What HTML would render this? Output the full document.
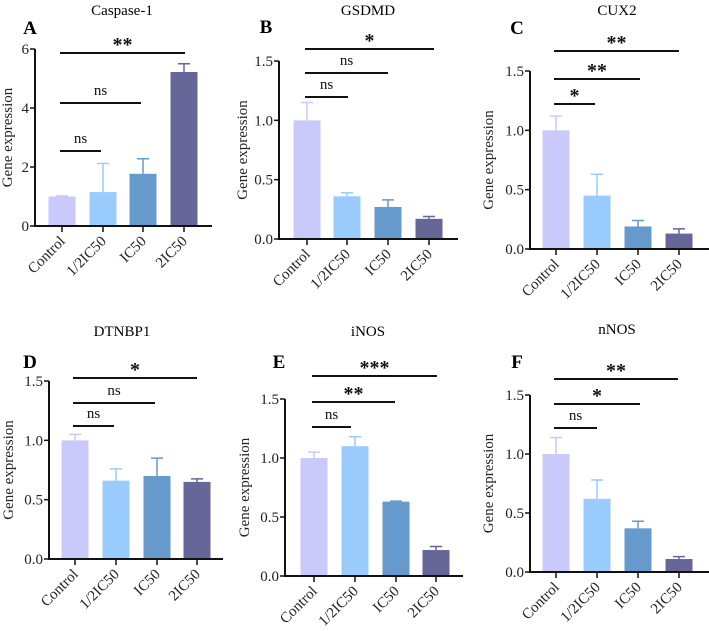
<!DOCTYPE html>
<html><head><meta charset="utf-8"><style>
html,body{margin:0;padding:0;background:#fff;}
svg{display:block;}
svg text{font-family:"Liberation Serif","DejaVu Serif",serif;}
</style></head><body>
<svg id="fig" width="709" height="631" viewBox="0 0 709 631" xmlns="http://www.w3.org/2000/svg"></svg>
<script>
const categories = ["Control","1/2IC50","IC50","2IC50"];
const colors = ["#c9c9fb","#99ccfd","#6699cc","#666699"];
const titles = ["Caspase-1","GSDMD","CUX2","DTNBP1","iNOS","nNOS"];
const letters = ["A","B","C","D","E","F"];
const meansA = [1.0,1.15,1.77,5.22];
const errsA  = [1.02,2.12,2.28,5.5];
const meansB = [1.0,0.36,0.27,0.17];
const errsB  = [1.15,0.39,0.33,0.19];
const meansC = [1.0,0.45,0.19,0.13];
const errsC  = [1.12,0.63,0.24,0.17];
const meansD = [1.0,0.66,0.70,0.65];
const errsD  = [1.05,0.76,0.85,0.675];
const meansE = [1.0,1.10,0.63,0.22];
const errsE  = [1.05,1.18,0.635,0.25];
const meansF = [1.0,0.62,0.37,0.11];
const errsF  = [1.14,0.78,0.43,0.13];
const ticksA = [0,2,4,6];
const ticksB = [0,0.5,1.0,1.5];
const sigLabels = [["ns","ns","**"],["ns","ns","*"],["*","**","**"],["ns","ns","*"],["ns","**","***"],["ns","*","**"]];

const panels = [
 {m:meansA,e:errsA,ticks:ticksA,max:6,dec:0,ax:35,y0:226,yt:49,xe:212,tx:[62,103,143,184],ly:8,tt:[122,10],lt:[30,28],sig:[[151,101],[103,141],[53,185]]},
 {m:meansB,e:errsB,ticks:ticksB,max:1.5,dec:1,ax:279,y0:239,yt:61,xe:458,tx:[307,347,388,429],ly:243,tt:[368,10],lt:[266,27],sig:[[97,348],[73,388],[49,434]]},
 {m:meansC,e:errsC,ticks:ticksB,max:1.5,dec:1,ax:530,y0:249,yt:71,xe:709,tx:[556,597,638,679],ly:489,tt:[617,10],lt:[517,28],sig:[[104,595],[79,640],[51,679]]},
 {m:meansD,e:errsD,ticks:ticksB,max:1.5,dec:1,ax:49,y0:559,yt:381,xe:223,tx:[75,116,157,197],ly:9,tt:[122,331],lt:[30,362],sig:[[426,114],[403,155],[378,197]]},
 {m:meansE,e:errsE,ticks:ticksB,max:1.5,dec:1,ax:285,y0:576,yt:399,xe:463,tx:[314,355,396,436],ly:245,tt:[368,331],lt:[279,362],sig:[[427,351],[402,395],[376,437]]},
 {m:meansF,e:errsF,ticks:ticksB,max:1.5,dec:1,ax:530,y0:572,yt:395,xe:709,tx:[556,597,638,679],ly:489,tt:[617,329],lt:[517,362],sig:[[428,597],[404,640],[379,678]]}
];
const NS="http://www.w3.org/2000/svg";
const FF='"Liberation Serif", "DejaVu Serif", serif';
const svg=document.getElementById('fig');
function mk(tag,attrs,parent,text){const el=document.createElementNS(NS,tag);for(const k in attrs)el.setAttribute(k,attrs[k]);if(tag==='text')el.setAttribute('font-family',FF);if(text!==undefined)el.textContent=text;(parent||svg).appendChild(el);return el;}
panels.forEach((p,pi)=>{
  const g=mk('g',{});
  
  
  const y=v=>p.y0-(v/p.max)*(p.y0-p.yt);
  const bw=27;
  const t=mk('text',{x:p.tt[0],y:p.tt[1]+5,'text-anchor':'middle','font-size':15},g,titles[pi]);
  
  
  const l=mk('text',{x:p.lt[0],y:p.lt[1]+6,'text-anchor':'middle','font-size':19,'font-weight':'bold'},g,letters[pi]);
  
  
  p.m.forEach((v,i)=>{
    const cx=p.tx[i];
    const r=mk('rect',{x:cx-bw/2,y:y(v),width:bw,height:p.y0-y(v),fill:colors[i]},g);
    
    
    const eb=mk('path',{d:`M${cx} ${y(v)}V${y(p.e[i])}M${cx-6} ${y(p.e[i])}H${cx+6}`,stroke:colors[i],'stroke-width':1.5,fill:'none'},g);
    
    
  });
  const axes=mk('path',{d:`M${p.ax} ${p.yt}V${p.y0}H${p.xe}`,stroke:'#111','stroke-width':2,fill:'none'},g);
  
  
  p.ticks.forEach(tv=>{
    mk('line',{x1:p.ax-5,x2:p.ax,y1:y(tv),y2:y(tv),stroke:'#111','stroke-width':1.5},g);
    const tl=mk('text',{x:p.ax-6,y:y(tv)+5,'text-anchor':'end','font-size':15,fill:'#222'},g,tv.toFixed(p.dec));
    
    
  });
  p.tx.forEach((cx,i)=>{
    mk('line',{x1:cx,x2:cx,y1:p.y0,y2:p.y0+6,stroke:'#111','stroke-width':1.5},g);
    const xl=mk('text',{x:cx+4,y:p.y0+16,'text-anchor':'end','font-size':15,fill:'#222',transform:`rotate(-45 ${cx+4} ${p.y0+16})`},g,categories[i]);
    
    
  });
  const yl=mk('text',{x:p.ly,y:(p.y0+p.yt)/2,'text-anchor':'middle','font-size':15,fill:'#222',transform:`rotate(-90 ${p.ly} ${(p.y0+p.yt)/2})`,'dominant-baseline':'central'},g,'Gene expression');
  
  
  p.sig.forEach((s,k)=>{
    const x1=p.tx[0]-2;
    mk('line',{x1:x1,x2:s[1],y1:s[0],y2:s[0],stroke:'#111','stroke-width':2},g);
    const lab=sigLabels[pi][k];
    const isNs=lab==='ns';
    const st=mk('text',{x:(x1+s[1])/2,y:isNs?s[0]-8:s[0]-2,'text-anchor':'middle','font-size':isNs?15:20,'font-weight':isNs?'normal':'bold',fill:'#111'},g,lab);
    
    
  });
});
</script>
</body></html>
